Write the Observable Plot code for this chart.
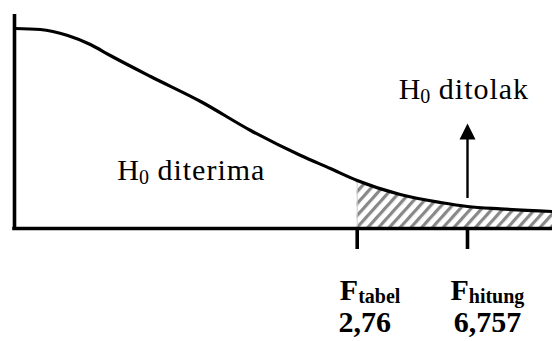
<!DOCTYPE html>
<html>
<head>
<meta charset="utf-8">
<script src="https://cdn.jsdelivr.net/npm/d3@7"></script>
<script src="https://cdn.jsdelivr.net/npm/@observablehq/plot@0.6"></script>
<style>
  body { margin: 0; background: #fff; }
  svg { display: block; }
</style>
</head>
<body>
<div id="chart"></div>
<script>
// Sketch of the F distribution: acceptance region on the left,
// hatched rejection region to the right of F tabel.

// Density curve (schematic units: x 0..100, peak height 1)
const curveX = [0, 4.8, 9.9, 14.1, 17.8, 25.3, 34.6, 43.9, 53.2, 58.7, 63.7, 71.7, 79.2, 84.2, 90.3, 100];
const curveY = [1.0, 0.995, 0.965, 0.92, 0.865, 0.76, 0.635, 0.49, 0.365, 0.30, 0.24, 0.17, 0.13, 0.11, 0.098, 0.085];

// Critical points: name (subscript), value, position on the sketch axis
const critNames = ["tabel", "hitung"];
const critValues = [2.76, 6.757];
const critPos = [63.7, 84.2];
const critLabelShift = [2.4, 3.7];   // label offset from the tick, axis units
const critValueShift = [1.4, 3.7];

// Region labels
const regionText = ["diterima", "ditolak"];
const regionX = [19.1, 71.4];
const regionY = [0.245, 0.65];

// Arrow pointing into the rejection region
const arrowFrom = 0.15;
const arrowHeadBase = 0.445;

const curve = curveX.map((x, i) => ({x, y: curveY[i]}));
const tail = curve.filter(d => d.x >= critPos[0]);
const crit = critNames.map((name, i) => ({
  name, value: critValues[i], x: critPos[i],
  label: "F" + name,
  valueText: String(critValues[i]).replace(".", ","),
  labelX: critPos[i] + critLabelShift[i],
  valueX: critPos[i] + critValueShift[i]
}));
const regions = regionText.map((t, i) => ({label: "H0 " + t, x: regionX[i], y: regionY[i]}));

const arrowHead = {
  draw(ctx) {
    ctx.moveTo(0, -16);
    ctx.lineTo(8, 0);
    ctx.lineTo(-8, 0);
    ctx.closePath();
  }
};

const serif = "'Liberation Serif', 'Times New Roman', serif";

const svg = Plot.plot({
  width: 552,
  height: 341,
  marginLeft: 14,
  marginRight: 0,
  marginTop: 14,
  marginBottom: 113,
  x: {domain: [0, 100], axis: null},
  y: {domain: [0, 1.07], axis: null},
  style: {background: "#fff", fontFamily: serif, overflow: "visible"},
  marks: [
    // hatched rejection region
    Plot.areaY(tail, {x: "x", y: "y", curve: "monotone-x", fill: "url(#hatch)"}),
    Plot.ruleX([tail[0]], {x: "x", y1: 0, y2: "y", stroke: "#cfcfcf", strokeWidth: 1}),
    // density curve
    Plot.line(curve, {x: "x", y: "y", curve: "monotone-x", stroke: "#000", strokeWidth: 3.2}),
    // axes
    Plot.ruleX([0], {y1: 0, y2: 1.07, stroke: "#000", strokeWidth: 3.6}),
    Plot.ruleY([0], {x1: 0, x2: 100, stroke: "#000", strokeWidth: 3.6, strokeLinecap: "square"}),
    // critical ticks below the axis
    Plot.ruleX(crit, {x: "x", y1: -0.01, y2: -0.105, stroke: "#000", strokeWidth: 3.6}),
    // arrow
    Plot.ruleX([crit[1]], {x: "x", y1: arrowFrom, y2: arrowHeadBase, stroke: "#000", strokeWidth: 2.4}),
    Plot.dot([crit[1]], {x: "x", y: arrowHeadBase, symbol: arrowHead, fill: "#000", stroke: "none"}),
    // labels
    Plot.text(regions, {x: "x", y: "y", text: "label", textAnchor: "start", lineAnchor: "bottom",
      fontSize: 30, fill: "#000"}),
    Plot.text(crit, {x: "labelX", y: -0.355, text: "label", textAnchor: "middle",
      lineAnchor: "bottom", fontSize: 30, fontWeight: "bold", fill: "#000"}),
    Plot.text(crit, {x: "valueX", y: -0.5175, text: "valueText", textAnchor: "middle",
      lineAnchor: "bottom", fontSize: 30, fontWeight: "bold", fill: "#000"})
  ]
});

// hatch pattern
const defs = d3.select(svg).insert("defs", ":first-child");
const pat = defs.append("pattern")
  .attr("id", "hatch")
  .attr("patternUnits", "userSpaceOnUse")
  .attr("width", 8).attr("height", 8)
  .attr("patternTransform", "rotate(42)");
pat.append("rect").attr("width", 8).attr("height", 8).attr("fill", "#fff");
pat.append("rect").attr("width", 3.2).attr("height", 8).attr("fill", "#888");

// subscripts: H0 and F-labels
function subscript(el, head, sub, rest, subSize, shift, spacing) {
  el.textContent = "";
  const s = d3.select(el);
  s.append("tspan").text(head);
  s.append("tspan").attr("font-size", subSize).attr("dy", shift).text(sub);
  if (rest) s.append("tspan").attr("dy", -shift)
    .attr("letter-spacing", spacing).text(rest);
}
d3.select(svg).selectAll("text").each(function () {
  const t = this.textContent;
  const r = regions.find(d => d.label === t);
  if (r) return subscript(this, "H", "0", " " + t.slice(3), 20, 4, 1);
  const c = crit.find(d => d.label === t);
  if (c) return subscript(this, "F", c.name, null, 20, 3);
});

document.getElementById("chart").append(svg);
</script>
</body>
</html>
